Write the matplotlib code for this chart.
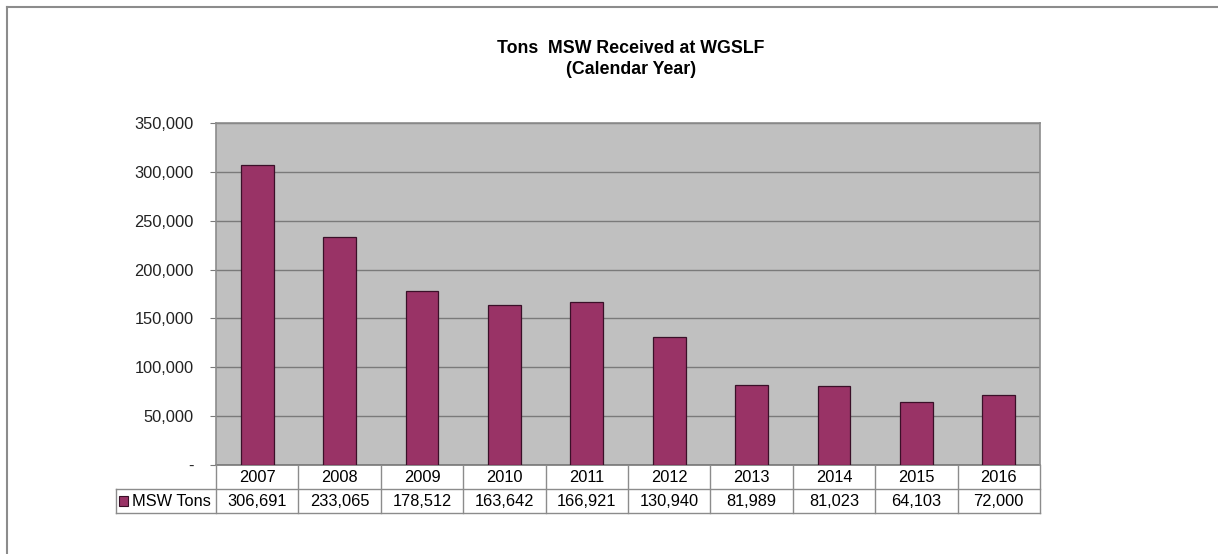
import matplotlib.pyplot as plt
from matplotlib.lines import Line2D
from matplotlib.patches import Rectangle
from matplotlib.ticker import FuncFormatter

plt.rcParams["font.family"] = ["Liberation Sans", "DejaVu Sans"]

years = ["2007", "2008", "2009", "2010", "2011", "2012", "2013", "2014", "2015", "2016"]
msw_tons = [306691, 233065, 178512, 163642, 166921, 130940, 81989, 81023, 64103, 72000]
series_name = "MSW Tons"
title = "Tons  MSW Received at WGSLF\n(Calendar Year)"

BAR = "#993366"
GRID = "#7a7a7a"
FS = 11.8

W, H = 1218, 554
fig = plt.figure(figsize=(W / 100, H / 100), dpi=100)

# outer chart border (top and left only visible)
fig.add_artist(Line2D([7 / W, 7 / W], [0, 1 - 7 / H], color="#8c8c8c", lw=1.5))
fig.add_artist(Line2D([7 / W, 1], [1 - 7 / H, 1 - 7 / H], color="#8c8c8c", lw=1.5))

left, right, top, bottom = 216, 1040, 123, 465
ax = fig.add_axes([left / W, 1 - bottom / H, (right - left) / W, (bottom - top) / H])
ax.set_facecolor("#c0c0c0")

x = range(len(years))
ax.bar(x, msw_tons, width=0.4, color=BAR, edgecolor="#3a1028", linewidth=0.9, zorder=3)

ax.set_xlim(-0.5, len(years) - 0.5)
ax.set_ylim(0, 350000)
ax.set_yticks(range(0, 350001, 50000))
ax.yaxis.set_major_formatter(FuncFormatter(lambda v, p: "-" if v == 0 else f"{int(v):,}"))
ax.grid(axis="y", color=GRID, lw=1, zorder=1)
ax.set_xticks([])
ax.tick_params(axis="y", length=4, color=GRID, labelsize=FS, pad=12, labelcolor="#222222")
for s in ax.spines.values():
    s.set_color("#8c8c8c")
    s.set_linewidth(1.2)
ax.spines["bottom"].set_visible(False)

fig.text(631 / W, 1 - 59 / H, title, ha="center", va="center", fontsize=12.8,
         fontweight="bold", linespacing=1.3)

# data table below the axes
row_h = 24 / (bottom - top)
tr = ax.get_xaxis_transform()
line_kw = dict(color="#8c8c8c", lw=1, transform=tr, clip_on=False)
leg_left = -0.5 - 100 / ((right - left) / len(years))

ax.plot([-0.5, len(years) - 0.5], [0, 0], color="#777777", lw=1.2, transform=tr, clip_on=False)
for yy in [-row_h, -2 * row_h]:
    ax.plot([leg_left, len(years) - 0.5], [yy, yy], **line_kw)
ax.plot([-0.5, -0.5], [0, -2 * row_h], **line_kw)
ax.plot([leg_left, leg_left], [-row_h, -2 * row_h], **line_kw)
for i in range(len(years)):
    ax.plot([i + 0.5, i + 0.5], [0, -2 * row_h], **line_kw)
    ax.text(i, -row_h / 2, years[i], transform=tr, ha="center", va="center", fontsize=FS)
    ax.text(i, -1.5 * row_h, f"{msw_tons[i]:,}", transform=tr, ha="center", va="center",
            fontsize=FS)

ax.add_patch(Rectangle((leg_left + 0.04, -1.5 * row_h - 0.016), 0.1, 0.032, transform=tr,
                       facecolor=BAR, edgecolor="#3a1028", lw=0.8, clip_on=False))
ax.text(leg_left + 0.19, -1.5 * row_h, series_name, transform=tr, ha="left", va="center",
        fontsize=FS)

fig.savefig("out.png", dpi=100)
